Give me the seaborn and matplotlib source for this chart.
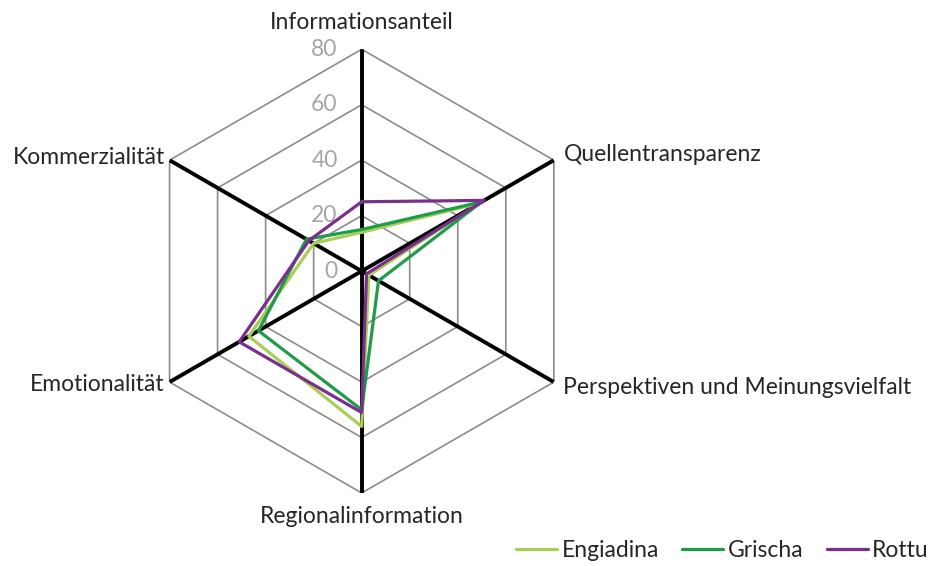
import numpy as np
import pandas as pd
import matplotlib
matplotlib.use("Agg")
import matplotlib.pyplot as plt
import matplotlib.transforms as mtransforms
import seaborn as sns

# categories, clockwise from top
categories = ["Informationsanteil", "Quellentransparenz",
              "Perspektiven und Meinungsvielfalt", "Regionalinformation",
              "Emotionalität", "Kommerzialität"]
engiadina = [14, 49, 3, 56, 47, 20]
grischa = [15, 50, 7, 50, 43, 23]
rottu = [25, 51, 2, 51, 51, 22]
series_names = ["Engiadina", "Grischa", "Rottu"]
ticks = [0, 20, 40, 60, 80]

colors = {"Engiadina": "#a9cd55", "Grischa": "#1e9c48", "Rottu": "#7a2f8c"}

sns.set_style("white")
plt.rcParams["font.family"] = ["Lato", "DejaVu Sans"]

angles = np.deg2rad(np.arange(len(categories)) * 360 / len(categories))
closed_angles = np.append(angles, angles[0])

rows = []
for name, vals in zip(series_names, [engiadina, grischa, rottu]):
    vals = list(vals) + [vals[0]]
    for i, (a, v) in enumerate(zip(closed_angles, vals)):
        rows.append({"series": name, "order": i, "theta": a, "value": v})
df = pd.DataFrame(rows)

fig = plt.figure(figsize=(9.31, 5.66), dpi=100)
ax = fig.add_axes([0.150, 0.129, 0.477, 0.784], projection="polar")
ax.set_theta_offset(np.pi / 2)
ax.set_theta_direction(-1)
ax.set_ylim(0, 80)
ax.grid(False)
ax.spines["polar"].set_visible(False)
ax.set_xticks([])
ax.set_yticks([])

# hexagonal grid
for t in ticks[1:]:
    ax.plot(closed_angles, [t] * len(closed_angles), color="#8c8c8c", lw=1.2, zorder=1)
# spokes
for a in angles:
    ax.plot([a, a], [0, 80], color="black", lw=2.8, zorder=2, solid_capstyle="butt")

# radial tick labels
off = mtransforms.offset_copy(ax.transData, fig=fig, x=-24, y=0, units="dots")
for t in ticks:
    ax.text(0, t, str(t), transform=off, ha="right", va="center",
            fontsize=16.5, color="#a6a6a6", zorder=3)

sns.lineplot(data=df, x="theta", y="value", hue="series", units="series",
             estimator=None, sort=False, palette=colors, lw=2.3, ax=ax,
             legend=False, zorder=4)
ax.set_xlabel("")
ax.set_ylabel("")

# category labels
lab_fs = 16.5
ax.text(angles[0], 89.5, categories[0], ha="center", va="center", fontsize=lab_fs, clip_on=False)
ax.text(angles[1], 84, categories[1], ha="left", va="center", fontsize=lab_fs, clip_on=False)
ax.text(angles[2], 84, categories[2], ha="left", va="center", fontsize=lab_fs, clip_on=False)
ax.text(angles[3], 88.5, categories[3], ha="center", va="center", fontsize=lab_fs, clip_on=False)
ax.text(angles[4], 82, categories[4], ha="right", va="center", fontsize=lab_fs, clip_on=False)
ax.text(angles[5], 82, categories[5], ha="right", va="center", fontsize=lab_fs, clip_on=False)

handles = [plt.Line2D([0], [0], color=colors[n], lw=2.3) for n in series_names]
fig.legend(handles, series_names, loc="center right", bbox_to_anchor=(1.02, 0.028),
           ncol=3, frameon=False, fontsize=lab_fs, handlelength=1.8,
           handletextpad=0.2, columnspacing=1.0)

fig.savefig("out.png", dpi=100, facecolor="white")
